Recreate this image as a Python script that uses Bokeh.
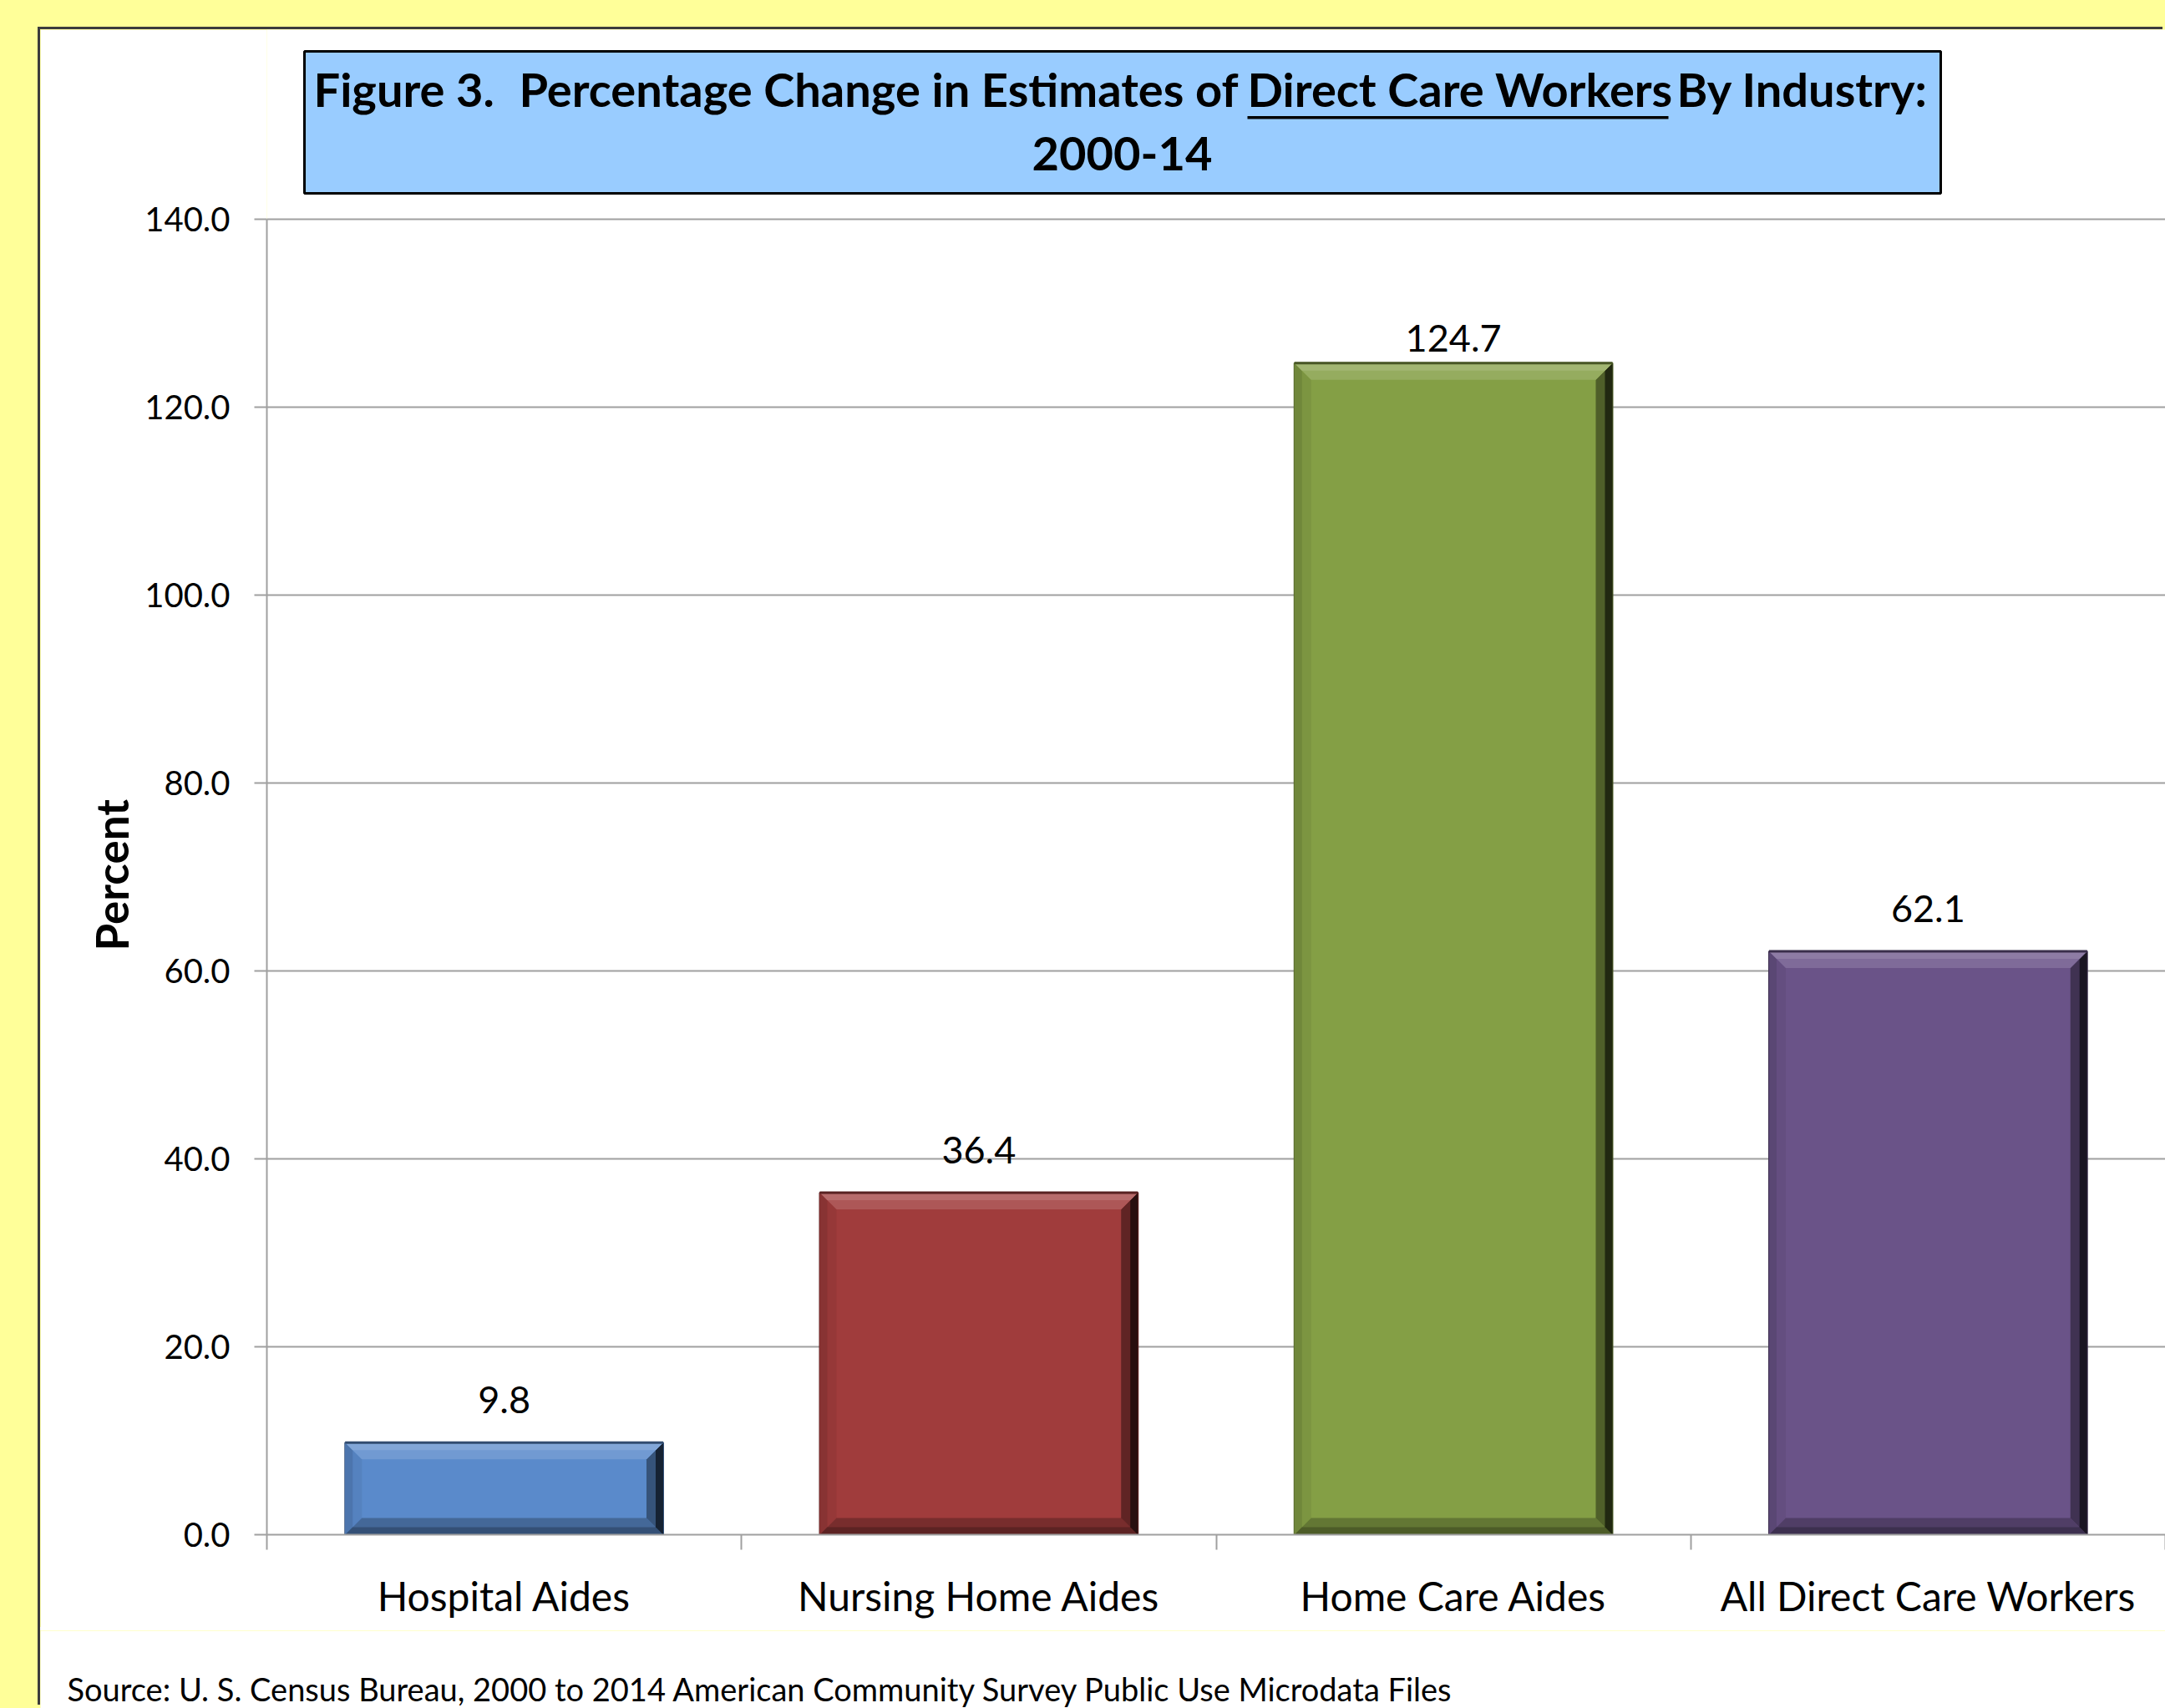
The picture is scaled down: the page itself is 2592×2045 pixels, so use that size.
from bokeh.plotting import figure
from bokeh.models import (Range1d, LinearAxis, FixedTicker, CustomJSTickFormatter, Title,
                          NumeralTickFormatter, ColumnDataSource, Label, BoxAnnotation)
from bokeh.layouts import column
from bokeh.core.properties import value
from bokeh.embed import file_html
from bokeh.resources import INLINE

# ---------------- data ----------------
CATEGORIES = ["Hospital Aides", "Nursing Home Aides", "Home Care Aides", "All Direct Care Workers"]
VALUES = [9.8, 36.4, 124.7, 62.1]
VALUE_LABELS = ["9.8", "36.4", "124.7", "62.1"]
Y_TICKS = [0, 20, 40, 60, 80, 100, 120, 140]
TITLE_FIG = "Figure 3."
TITLE_LEFT = "Percentage Change in Estimates of"
TITLE_MID = "Direct Care Workers"
TITLE_RIGHT = "By Industry:"
TITLE_LINE2 = "2000-14"
Y_LABEL = "Percent"
SOURCE = "Source: U. S. Census Bureau, 2000 to 2014 American Community Survey Public Use Microdata Files"

# ---------------- styles ----------------
BAR_BASE = ["#5A8ACB", "#A03C3C", "#849F45", "#6A5388"]
LABEL_LIFT = [32, 32, 11, 32]          # px between bar top and label baseline
FONT = "Lato"
AX = "#A0A0A0"
BASELINE_FIX = 0.42                    # em, renderer baseline correction
EDGE = "#3C3C3C"

# screen geometry (px)
CANVAS_W, CANVAS_H = 2592, 2045
PANEL_LEFT, PANEL_TOP = 48, 35
FRAME_LEFT = 319
FRAME_BOTTOM = 1837
AXIS_BAND = 115                        # space under the plot frame for the category axis
Y_MAX_PX = 262
Y_MAX = 140
BAR_WIDTH = 0.67
BEVEL_PX = 20
VALUE_FONT = 45
TITLE_FONT = 56
SOURCE_FONT = 38
YLABEL_BOTTOM = 1138                   # screen y where "Percent" starts
SOURCE_X, SOURCE_BASE = 80, 2037

N = len(CATEGORIES)
Y_PX = (FRAME_BOTTOM - Y_MAX_PX) / Y_MAX
X_PX = (CANVAS_W - FRAME_LEFT) / N
Y_TOP = (FRAME_BOTTOM - PANEL_TOP) / Y_PX
CENTERS = [i + 0.5 for i in range(N)]
MAIN_H = FRAME_BOTTOM + AXIS_BAND - PANEL_TOP
NOTE_H = CANVAS_H - PANEL_TOP - MAIN_H


def dx(sx):
    return (sx - FRAME_LEFT) / X_PX


def dy(sy):
    return (FRAME_BOTTOM - sy) / Y_PX


def mix(c, t, f):
    c = c.lstrip("#")
    r, g, b = (int(c[i:i + 2], 16) for i in (0, 2, 4))
    tr, tg, tb = (255, 255, 255) if t == "white" else (0, 0, 0)
    r = round(r + (tr - r) * f)
    g = round(g + (tg - g) * f)
    b = round(b + (tb - b) * f)
    return "#%02x%02x%02x" % (r, g, b)


p = figure(x_range=Range1d(0, N), y_range=Range1d(0, Y_TOP),
           width=CANVAS_W - PANEL_LEFT, height=MAIN_H,
           output_backend="svg", toolbar_location=None,
           x_axis_location=None, y_axis_location="left",
           min_border_left=FRAME_LEFT - PANEL_LEFT, min_border_right=0,
           min_border_top=0, min_border_bottom=AXIS_BAND,
           border_fill_color="white", background_fill_color="white",
           outline_line_color=None)
p.margin = (PANEL_TOP, 0, 0, PANEL_LEFT)
p.styles = {"box-shadow": f"-3px -3px 0px 0px {EDGE}"}

# grids
for g in p.grid:
    if g.dimension == 0:
        g.visible = False
p.ygrid.ticker = FixedTicker(ticks=Y_TICKS)
p.ygrid.grid_line_color = AX
p.ygrid.grid_line_width = 2

# y axis
ya = p.yaxis[0]
ya.ticker = FixedTicker(ticks=Y_TICKS)
ya.formatter = NumeralTickFormatter(format="0.0")
ya.bounds = (0, Y_MAX)
ya.axis_line_color = AX
ya.axis_line_width = 2
ya.major_tick_line_color = AX
ya.major_tick_line_width = 2
ya.major_tick_out = 15
ya.major_tick_in = 0
ya.minor_tick_line_color = None
ya.major_label_standoff = 29
ya.major_label_text_font = FONT
ya.major_label_text_font_size = "40px"
ya.major_label_text_color = "black"

# y axis title (vertical), placed alongside the 0-140 span
p.add_layout(Title(text=Y_LABEL, align="left", offset=FRAME_BOTTOM - YLABEL_BOTTOM,
                   text_font=FONT, text_font_style="bold", text_font_size="53px",
                   text_color="black", standoff=12), "left")

# x axis: category names at centres, tick marks at category boundaries
xa = LinearAxis(ticker=FixedTicker(ticks=CENTERS, minor_ticks=list(range(N + 1))),
                formatter=CustomJSTickFormatter(args=dict(names=CATEGORIES),
                                                code="return names[Math.floor(tick)] || ''"),
                major_tick_out=0, major_tick_in=0, major_tick_line_color=None,
                minor_tick_out=18, minor_tick_in=0, minor_tick_line_color=AX, minor_tick_line_width=2,
                axis_line_color=AX, axis_line_width=2,
                major_label_standoff=26,
                major_label_text_font=FONT, major_label_text_font_size="48px",
                major_label_text_color="black")
p.add_layout(xa, "below")

# bars
src = ColumnDataSource(dict(x=CENTERS, cat=CATEGORIES, val=VALUES, lab=VALUE_LABELS,
                            color=BAR_BASE,
                            outline=[mix(c, "black", 0.4) for c in BAR_BASE],
                            lift=[-(v + BASELINE_FIX * VALUE_FONT) for v in LABEL_LIFT]))
p.vbar(x="x", top="val", width=BAR_WIDTH, source=src,
       fill_color="color", line_color="outline", line_width=2)

# bevel facets, derived from the bar geometry
bx = BEVEL_PX / X_PX
by = BEVEL_PX / Y_PX
hw = BAR_WIDTH / 2


def facets(frac):
    out = {k: dict(xs=[], ys=[]) for k in ("top", "bottom", "left", "right")}
    for c, v in zip(CENTERS, VALUES):
        l, r = c - hw, c + hw
        ex, ey = bx * frac, min(by, v / 2) * frac
        out["top"]["xs"].append([l, r, r - ex, l + ex])
        out["top"]["ys"].append([v, v, v - ey, v - ey])
        out["bottom"]["xs"].append([l, r, r - ex, l + ex])
        out["bottom"]["ys"].append([0, 0, ey, ey])
        out["left"]["xs"].append([l, l + ex, l + ex, l])
        out["left"]["ys"].append([0, ey, v - ey, v])
        out["right"]["xs"].append([r, r - ex, r - ex, r])
        out["right"]["ys"].append([0, ey, v - ey, v])
    return out


full = facets(1.0)
half = facets(0.45)
shade = {
    "left": ([mix(c, "black", 0.06) for c in BAR_BASE], [mix(c, "black", 0.15) for c in BAR_BASE]),
    "bottom": ([mix(c, "black", 0.25) for c in BAR_BASE], [mix(c, "black", 0.42) for c in BAR_BASE]),
    "right": ([mix(c, "black", 0.4) for c in BAR_BASE], [mix(c, "black", 0.75) for c in BAR_BASE]),
    "top": ([mix(c, "white", 0.14) for c in BAR_BASE], [mix(c, "white", 0.24) for c in BAR_BASE]),
}
for side in ("left", "bottom", "right", "top"):
    c_full, c_half = shade[side]
    p.patches(xs=full[side]["xs"], ys=full[side]["ys"], fill_color=c_full, line_color=None)
    p.patches(xs=half[side]["xs"], ys=half[side]["ys"], fill_color=c_half, line_color=None)
# top rim line
p.segment(x0=[c - hw for c in CENTERS], x1=[c + hw for c in CENTERS],
          y0=VALUES, y1=VALUES, line_color=[mix(c, "black", 0.45) for c in BAR_BASE], line_width=3)

# value labels
p.text(x="x", y="val", text="lab", source=src, y_offset="lift",
       text_align="center", text_baseline="alphabetic",
       text_font=value(FONT), text_font_size=f"{VALUE_FONT}px", text_color="black")

# header box
p.add_layout(BoxAnnotation(left=dx(364), right=dx(2323), top=dy(61), bottom=dy(231),
                           fill_color="#99CCFF", fill_alpha=1.0,
                           line_color="black", line_width=3, line_alpha=1.0))
TITLE_STYLE = dict(text_font=FONT, text_font_style="bold", text_font_size=f"{TITLE_FONT}px",
                   text_color="black", text_baseline="alphabetic")
L1 = dy(130 - BASELINE_FIX * TITLE_FONT)
L2 = dy(207 - BASELINE_FIX * TITLE_FONT)
p.add_layout(Label(x=dx(375), y=L1, text=TITLE_FIG, text_align="left", **TITLE_STYLE))
p.add_layout(Label(x=dx(1482), y=L1, text=TITLE_LEFT, text_align="right", **TITLE_STYLE))
p.add_layout(Label(x=dx(1493), y=L1, text=TITLE_MID, text_align="left", **TITLE_STYLE))
p.add_layout(Label(x=dx(2007), y=L1, text=TITLE_RIGHT, text_align="left", **TITLE_STYLE))
p.add_layout(Label(x=dx(1343), y=L2, text=TITLE_LINE2, text_align="center", **TITLE_STYLE))
p.add_layout(BoxAnnotation(left=dx(1493), right=dx(1997), top=dy(138.5), bottom=dy(142),
                           fill_color="black", fill_alpha=1.0, line_color=None))

# ---------------- source note strip ----------------
can_unalign = "frame_align" in p.properties()
note_left = PANEL_LEFT if can_unalign else FRAME_LEFT   # screen x of the strip's frame
note = figure(width=CANVAS_W - PANEL_LEFT, height=NOTE_H,
              x_range=Range1d(note_left, CANVAS_W), y_range=Range1d(0, NOTE_H),
              output_backend="svg", toolbar_location=None,
              x_axis_location=None, y_axis_location=None, min_border=0,
              border_fill_color="white", background_fill_color="white",
              outline_line_color=None)
if can_unalign:
    p.frame_align = False
    note.frame_align = False
for g in note.grid:
    g.visible = False
note.margin = (0, 0, 0, PANEL_LEFT)
note.styles = {"box-shadow": f"0px -4px 0px 0px white, -3px -4px 0px 0px {EDGE}"}
note_top = PANEL_TOP + MAIN_H
note.add_layout(Label(x=max(SOURCE_X, note_left + 2),
                      y=(note_top + NOTE_H - SOURCE_BASE) + BASELINE_FIX * SOURCE_FONT,
                      text=SOURCE, text_align="left", text_baseline="alphabetic",
                      text_font=FONT, text_font_size=f"{SOURCE_FONT}px", text_color="black"))

root = column(p, note, styles={"background-color": "#FFFF99"})
open("out.html", "w").write(file_html(root, INLINE))
